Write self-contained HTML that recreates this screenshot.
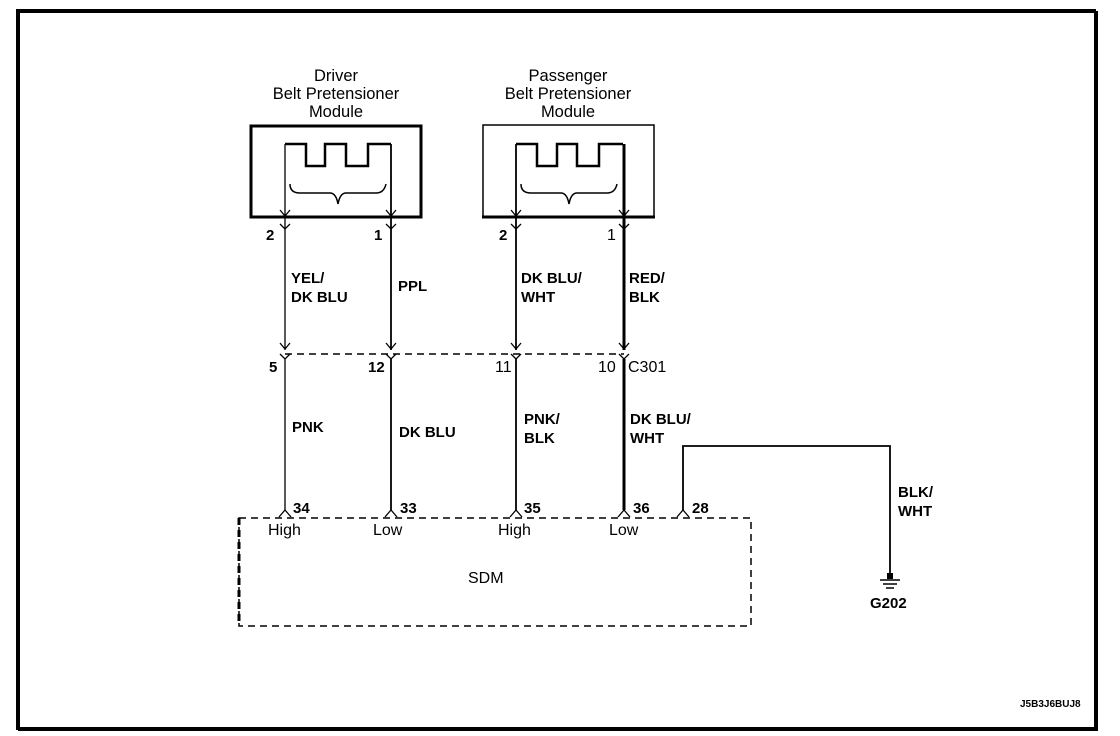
<!DOCTYPE html>
<html><head><meta charset="utf-8"><style>
html,body{margin:0;padding:0;background:#fff;width:1120px;height:736px;overflow:hidden}
text{font-family:"Liberation Sans",Arial,sans-serif;font-size:14px;fill:#000}
.b{font-weight:bold;font-size:15px}
.t{font-size:16.5px}
.m{font-size:16px}
</style></head><body>
<svg width="1120" height="736" viewBox="0 0 1120 736" xmlns="http://www.w3.org/2000/svg">
<path d="M18 730 V11 H1096" fill="none" stroke="#000" stroke-width="4"/>
<path d="M1096 11 V729 H18" fill="none" stroke="#000" stroke-width="4"/>

<g text-anchor="middle" class="t">
<text x="336" y="81" class="t">Driver</text>
<text x="336" y="99" class="t">Belt Pretensioner</text>
<text x="336" y="117" class="t">Module</text>
<text x="568" y="81" class="t">Passenger</text>
<text x="568" y="99" class="t">Belt Pretensioner</text>
<text x="568" y="117" class="t">Module</text>
</g>

<rect x="251" y="126" width="170" height="91" fill="none" stroke="#000" stroke-width="3"/>
<rect x="483" y="125" width="171" height="92" fill="none" stroke="#000" stroke-width="1.5"/>
<line x1="482" y1="217" x2="655" y2="217" stroke="#000" stroke-width="3"/>

<g fill="none" stroke="#000" stroke-width="2.5">
<path d="M285 144 H306 V166 H325 V144 H346 V166 H368 V144 H391"/>
<path d="M516 144 H537 V166 H557 V144 H577 V166 H599 V144 H623"/>
</g>
<g fill="none" stroke="#000" stroke-width="1.5">
<path d="M290 184 Q290 193 300 193 H330 Q336 193 338 204 Q340 193 346 193 H376 Q384 193 386 184"/>
<path d="M521 184 Q521 193 531 193 H561 Q567 193 569 204 Q571 193 577 193 H607 Q615 193 617 184"/>
</g>

<g stroke="#000" fill="none">
<line x1="285" y1="144" x2="285" y2="350" stroke-width="1.3"/>
<line x1="391" y1="144" x2="391" y2="350" stroke-width="1.8"/>
<line x1="516" y1="144" x2="516" y2="350" stroke-width="1.8"/>
<line x1="624" y1="144" x2="624" y2="350" stroke-width="3"/>
</g>
<g stroke="#000" fill="none" stroke-width="1.3">
<path d="M280 210 L285 216 L290 210 M386 210 L391 216 M396 210 L391 216"/>
<path d="M511 210 L516 216 L521 210 M619 210 L624 216 L629 210"/>
<path d="M280 224 L285 229 L290 224 M386 224 L391 229 L396 224 M511 224 L516 229 L521 224 M619 224 L624 229 L629 224"/>
<path d="M280 343 L285 349 L290 343 M386 343 L391 349 L396 343 M511 343 L516 349 L521 343 M619 343 L624 349 L629 343"/>
<path d="M280 354 L285 359 L290 354 M386 354 L391 359 L396 354 M511 354 L516 359 L521 354 M619 354 L624 359 L629 354"/>
</g>
<line x1="285" y1="354" x2="624" y2="354" stroke="#000" stroke-width="1.5" stroke-dasharray="7,5"/>

<text x="266" y="240" class="b">2</text>
<text x="374" y="240" class="b">1</text>
<text x="499" y="240" class="b">2</text>
<text x="607" y="240" class="m">1</text>
<text x="291" y="283" class="b">YEL/</text>
<text x="291" y="302" class="b">DK BLU</text>
<text x="398" y="291" class="b">PPL</text>
<text x="521" y="283" class="b">DK BLU/</text>
<text x="521" y="302" class="b">WHT</text>
<text x="629" y="283" class="b">RED/</text>
<text x="629" y="302" class="b">BLK</text>

<text x="269" y="372" class="b">5</text>
<text x="368" y="372" class="b">12</text>
<text x="495" y="372" class="m">11</text>
<text x="598" y="372" class="m">10</text>
<text x="628" y="372" class="m">C301</text>

<g stroke="#000" fill="none">
<line x1="285" y1="359" x2="285" y2="510" stroke-width="1.3"/>
<line x1="391" y1="359" x2="391" y2="510" stroke-width="1.8"/>
<line x1="516" y1="359" x2="516" y2="510" stroke-width="1.8"/>
<line x1="624" y1="359" x2="624" y2="510" stroke-width="3"/>
<path d="M683 510 V446 H890 V576" stroke-width="1.8"/>
</g>
<g stroke="#000" fill="none" stroke-width="1.3">
<path d="M279 517 L285 510 L291 517 M385 517 L391 510 L397 517 M510 517 L516 510 L522 517 M618 517 L624 510 L630 517 M677 517 L683 510 L689 517"/>
</g>
<text x="292" y="432" class="b">PNK</text>
<text x="399" y="437" class="b">DK BLU</text>
<text x="524" y="424" class="b">PNK/</text>
<text x="524" y="443" class="b">BLK</text>
<text x="630" y="424" class="b">DK BLU/</text>
<text x="630" y="443" class="b">WHT</text>

<text x="293" y="513" class="b">34</text>
<text x="400" y="513" class="b">33</text>
<text x="524" y="513" class="b">35</text>
<text x="633" y="513" class="b">36</text>
<text x="692" y="513" class="b">28</text>

<rect x="239" y="518" width="512" height="108" fill="none" stroke="#000" stroke-width="1.5" stroke-dasharray="7,5"/>
<line x1="239" y1="518" x2="239" y2="626" stroke="#000" stroke-width="3" stroke-dasharray="7,5"/>
<text x="268" y="535" class="m">High</text>
<text x="373" y="535" class="m">Low</text>
<text x="498" y="535" class="m">High</text>
<text x="609" y="535" class="m">Low</text>
<text x="468" y="583" class="m">SDM</text>

<text x="898" y="497" class="b">BLK/</text>
<text x="898" y="516" class="b">WHT</text>
<rect x="887" y="573" width="6" height="6" fill="#000"/>
<g stroke="#000" stroke-width="1.5">
<line x1="880" y1="580" x2="900" y2="580"/>
<line x1="883" y1="584" x2="897" y2="584"/>
<line x1="886" y1="588" x2="894" y2="588"/>
</g>
<text x="870" y="608" class="b">G202</text>

<text x="1020" y="707" style="font-size:10px;font-weight:bold">J5B3J6BUJ8</text>
</svg>
</body></html>
